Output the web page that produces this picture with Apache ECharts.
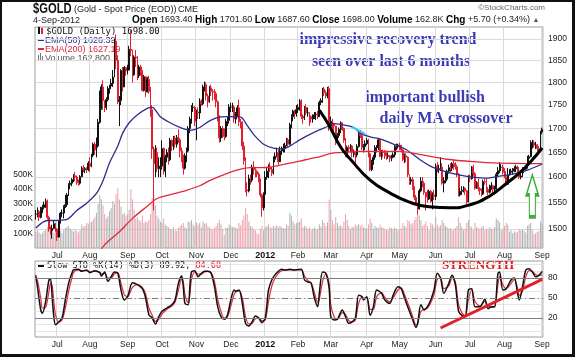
<!DOCTYPE html>
<html><head><meta charset="utf-8">
<script src="https://cdn.jsdelivr.net/npm/echarts@6/dist/echarts.min.js"></script>
<style>
html,body{margin:0;padding:0;background:#fff;}
#wrap{position:relative;width:575px;height:357px;}
#c{position:absolute;left:0;top:0;width:575px;height:357px;}
#frame{position:absolute;left:0;top:0;width:575px;height:357px;box-sizing:border-box;border-left:2px solid #111;border-top:2px solid #111;border-right:3px solid #111;border-bottom:3px solid #111;pointer-events:none;}
</style></head><body>
<div id="wrap"><div id="c"></div><div id="frame"></div></div>
<script>
// ---------- DATA ----------
const monthLabels = ['Jun','Jul','Aug','Sep','Oct','Nov','Dec','2012','Feb','Mar','Apr','May','Jun','Jul','Aug','Sep'];
// daily [close, high, low]
const jun2011 = [[1528,1536,1518],[1533,1541,1522],[1522,1536,1515],[1538,1542,1520],[1541,1546,1530],[1546,1552,1537],[1553,1558,1540],[1522,1556,1518],[1500,1525,1495],[1497,1505,1490],[1501,1508,1482],[1510,1515,1500],[1500,1512,1495]];
const jul2011 = [[1485,1502,1478],[1515,1517,1484],[1530,1532,1510],[1530,1537,1522],[1542,1545,1520],[1546,1565,1540],[1565,1569,1542],[1585,1588,1563],[1588,1593,1576],[1595,1598,1582],[1603,1606,1590],[1600,1610,1592],[1589,1603,1585],[1588,1595,1583],[1601,1604,1585],[1618,1622,1600],[1615,1624,1610],[1617,1620,1608],[1615,1620,1608],[1628,1632,1612]];
const aug2011 = [[1622,1640,1610],[1644,1647,1620],[1667,1670,1640],[1655,1672,1645],[1663,1681,1640],[1713,1720,1660],[1743,1782,1710],[1790,1796,1740],[1760,1805,1740],[1745,1760,1735],[1762,1767,1740],[1787,1792,1758],[1792,1795,1775],[1798,1808,1785],[1812,1828,1790],[1895,1900,1812],[1850,1911,1830],[1758,1862,1752],[1760,1770,1705],[1827,1830,1750],[1790,1835,1780],[1834,1837,1790],[1826,1835,1815]];
const sep2011 = [[1828,1840,1818],[1876,1884,1827],[1873,1921,1860],[1817,1875,1800],[1858,1862,1815],[1856,1874,1835],[1815,1860,1805],[1835,1840,1810],[1825,1840,1815],[1782,1828,1780],[1813,1817,1780],[1779,1813,1768],[1807,1812,1778],[1780,1815,1775],[1740,1790,1725],[1657,1750,1637],[1627,1662,1535],[1650,1665,1600],[1617,1660,1610],[1620,1640,1600],[1622,1640,1600]];
const oct2011 = [[1658,1675,1615],[1612,1660,1605],[1640,1645,1600],[1650,1657,1630],[1635,1660,1625],[1675,1680,1632],[1663,1677,1653],[1680,1684,1655],[1667,1685,1660],[1681,1686,1660],[1676,1698,1670],[1653,1680,1640],[1638,1660,1630],[1618,1645,1605],[1643,1648,1615],[1653,1660,1630],[1700,1705,1650],[1720,1725,1690],[1745,1750,1710],[1745,1755,1735],[1715,1748,1705]];
const nov2011 = [[1735,1740,1675],[1733,1745,1720],[1759,1765,1720],[1753,1763,1748],[1790,1795,1750],[1795,1802,1780],[1770,1800,1760],[1757,1775,1745],[1788,1792,1755],[1780,1795,1770],[1778,1785,1760],[1775,1785,1762],[1757,1780,1745],[1725,1760,1715],[1680,1728,1670],[1700,1705,1672],[1690,1705,1680],[1683,1700,1675],[1715,1720,1680],[1717,1725,1705],[1746,1752,1710]];
const dec2011 = [[1746,1755,1735],[1746,1755,1735],[1720,1750,1712],[1731,1735,1710],[1744,1750,1725],[1714,1762,1705],[1712,1720,1700],[1663,1715,1655],[1633,1672,1625],[1575,1640,1570],[1573,1590,1562],[1597,1605,1570],[1594,1605,1585],[1620,1625,1590],[1615,1632,1605],[1611,1618,1600],[1606,1615,1600],[1596,1610,1590],[1565,1597,1560],[1540,1568,1523],[1566,1570,1535]];
const jan2012 = [[1600,1612,1565],[1612,1620,1595],[1620,1626,1598],[1616,1630,1610],[1608,1620,1602],[1636,1642,1605],[1642,1650,1630],[1650,1660,1640],[1631,1656,1625],[1653,1662,1635],[1658,1662,1645],[1659,1668,1650],[1664,1670,1650],[1676,1680,1662],[1667,1680,1662],[1708,1712,1665],[1725,1730,1700],[1737,1740,1715],[1731,1740,1720],[1740,1750,1725]];
const feb2012 = [[1745,1752,1733],[1759,1763,1738],[1726,1762,1720],[1722,1730,1710],[1745,1748,1718],[1733,1752,1728],[1733,1745,1725],[1725,1735,1705],[1720,1728,1712],[1724,1730,1712],[1729,1735,1720],[1730,1735,1718],[1725,1737,1720],[1756,1760,1725],[1760,1765,1750],[1785,1788,1755],[1777,1790,1770],[1770,1782,1765],[1786,1790,1765],[1705,1792,1695]];
const mar2012 = [[1715,1725,1695],[1710,1720,1700],[1705,1712,1695],[1670,1705,1665],[1685,1690,1670],[1698,1702,1680],[1712,1715,1690],[1700,1712,1695],[1675,1702,1670],[1645,1680,1640],[1660,1664,1640],[1658,1665,1650],[1663,1667,1650],[1650,1665,1640],[1650,1656,1640],[1645,1652,1627],[1662,1667,1640],[1690,1692,1660],[1685,1697,1680],[1660,1688,1655],[1662,1667,1650],[1668,1675,1655]];
const apr2012 = [[1675,1680,1665],[1647,1678,1640],[1615,1650,1612],[1630,1635,1612],[1640,1645,1625],[1660,1665,1635],[1660,1665,1650],[1676,1678,1655],[1642,1678,1640],[1651,1655,1635],[1650,1656,1640],[1643,1655,1637],[1642,1650,1635],[1643,1650,1637],[1638,1645,1630],[1640,1645,1632],[1645,1650,1638],[1660,1665,1640],[1662,1668,1655],[1665,1668,1658]];
const may2012 = [[1663,1670,1655],[1655,1665,1650],[1635,1657,1632],[1643,1648,1628],[1640,1648,1630],[1605,1642,1600],[1592,1605,1585],[1595,1600,1585],[1580,1600,1575],[1560,1582,1555],[1548,1565,1545],[1538,1550,1527],[1573,1577,1537],[1592,1600,1570],[1588,1600,1580],[1570,1592,1565],[1561,1570,1535],[1557,1575,1550],[1572,1575,1555],[1553,1575,1550],[1565,1570,1537],[1562,1575,1555]];
const jun2012 = [[1622,1627,1555],[1617,1630,1610],[1617,1625,1608],[1620,1640,1612],[1588,1628,1585],[1593,1600,1570],[1596,1612,1588],[1612,1615,1592],[1619,1625,1607],[1618,1628,1610],[1627,1630,1612],[1626,1635,1615],[1621,1630,1615],[1605,1625,1600],[1565,1608,1562],[1572,1578,1562],[1574,1582,1565],[1578,1582,1570],[1573,1580,1565],[1551,1575,1547],[1598,1604,1552]];
const jul2012 = [[1597,1605,1590],[1620,1622,1595],[1607,1625,1603],[1578,1610,1575],[1589,1592,1577],[1577,1597,1572],[1574,1580,1565],[1567,1578,1562],[1591,1595,1565],[1590,1596,1585],[1576,1597,1570],[1570,1580,1565],[1581,1585,1568],[1583,1590,1575],[1576,1585,1565],[1580,1583,1570],[1606,1610,1575],[1613,1620,1600],[1620,1630,1608],[1620,1626,1612],[1610,1625,1605]];
const aug2012 = [[1601,1618,1598],[1586,1612,1583],[1605,1618,1585],[1610,1616,1603],[1612,1617,1605],[1613,1618,1605],[1617,1622,1610],[1620,1625,1610],[1612,1623,1608],[1600,1615,1596],[1602,1608,1596],[1615,1620,1600],[1616,1620,1608],[1619,1624,1612],[1638,1643,1617],[1641,1645,1630],[1670,1675,1640],[1670,1676,1658],[1665,1675,1660],[1665,1672,1657],[1658,1667,1652],[1657,1663,1650],[1692.3,1695,1652]];
const sep2012 = [[1698,1701.6,1687.6]];

// daily volume, thousands
const volJun2011 = [110,120,105,95,100,115,120,140,135,110,125,105,130];
const volJul2011 = [130,125,115,100,120,135,140,150,130,120,110,125,115,105,120,160,140,150,170,165];
const volAug2011 = [180,175,195,210,240,300,360,330,290,230,200,215,250,270,320,300,365,405,330,280,230,240,220];
const volSep2011 = [230,260,400,330,260,200,210,190,180,220,170,180,175,190,230,340,365,290,220,200,180];
const volOct2011 = [170,200,160,150,140,130,125,140,120,115,135,150,160,170,140,130,180,175,190,160,150];
const volNov2011 = [175,160,170,140,180,165,170,150,140,130,125,135,150,170,190,160,130,90,140,135,160];
const volDec2011 = [150,140,145,135,130,170,155,190,220,270,230,180,150,140,125,120,100,95,130,150,120];
const volJan2012 = [140,150,160,140,135,150,140,155,145,150,140,135,130,160,150,240,220,180,160,170];
const volFeb2012 = [175,180,200,140,150,145,130,140,120,130,140,125,130,160,145,190,170,150,175,330];
const volMar2012 = [260,190,160,210,170,150,155,140,180,230,190,150,130,145,140,160,150,165,150,160,140,135];
const volApr2012 = [130,160,200,170,130,150,140,135,160,140,135,130,125,120,140,135,125,140,130,120];
const volMay2012 = [130,135,170,150,140,190,180,160,170,190,210,230,220,190,150,160,180,150,120,170,160,140];
const volJun2012 = [210,160,145,155,190,170,150,140,130,135,120,125,135,150,210,170,140,120,130,170,190];
const volJul2012 = [150,140,120,170,140,135,130,140,150,120,130,125,140,130,125,145,200,190,175,120,130];
const volAug2012 = [150,170,160,110,120,100,115,105,110,130,120,125,115,105,150,160,170,120,95,100,110,115,180];
const volSep2012 = [163];

// EMA lines: [trading-day index, value]
const ema50 = [[0,1502],[7,1516],[11,1516],[19,1518],[25,1535],[31,1549],[37,1568],[41,1593],[45,1629],[50,1663],[53,1690],[57,1712],[62,1729],[68,1743],[71,1745],[76,1725],[82,1712],[88,1702],[94,1696],[100,1702],[106,1716],[112,1724],[118,1725],[125,1724],[129,1706],[133,1687],[139,1667],[145,1659],[151,1657],[155,1663],[161,1676],[167,1687],[173,1697],[178,1704],[181,1710],[187,1708],[194,1702],[198,1690],[204,1682],[210,1678],[216,1670],[226,1656],[234,1636],[242,1620],[251,1610],[259,1604],[267,1600],[275,1598],[283,1602],[291,1606],[300,1614],[309,1626.39]];
const ema200 = [[38,1455],[43,1474],[51,1495],[59,1520],[68,1543],[74,1558],[84,1567],[92,1574],[100,1583],[106,1593],[118,1609],[125,1616],[131,1619],[137,1619],[143,1620],[149,1624],[155,1628],[161,1632],[167,1637],[173,1641],[180,1648],[187,1650],[196,1652],[204,1652],[216,1652],[222,1652],[234,1646],[251,1636],[267,1631],[283,1628],[300,1627],[309,1627.19]];
const cyanSeg = [[193,1703],[201,1688]];
const cupArc = [[173,1739],[179,1706],[186,1661],[192,1636],[204,1594],[216,1569],[228,1551],[240,1542],[253,1540],[265,1546],[277,1563],[287,1587],[295,1608],[303,1635],[309,1659]];
const arrowAt = [[303,1563]];

// Slow stochastic
const stoK = [[0,84],[1,67],[3,32],[4,27],[6,45],[8,77],[9,78],[10,50],[11,22],[12,10],[14,14],[16,20],[18,47],[20,72],[22,87],[23,92],[26,93],[28,90],[31,92],[33,88],[36,91],[39,88],[40,83],[42,89],[44,75],[46,82],[48,89],[50,87],[52,62],[54,47],[56,52],[59,73],[62,70],[65,64],[67,50],[69,25],[71,20],[73,11],[75,22],[77,30],[80,35],[83,40],[85,47],[87,72],[89,83],[90,67],[91,42],[93,40],[94,67],[95,89],[97,91],[99,82],[101,87],[103,90],[105,90],[107,87],[109,67],[111,37],[113,22],[115,18],[117,25],[119,47],[121,62],[122,60],[124,62],[126,42],[128,12],[130,8],[132,14],[134,23],[136,20],[138,13],[140,20],[142,62],[144,77],[146,85],[148,90],[150,93],[152,92],[155,93],[158,92],[162,93],[164,77],[166,74],[168,72],[170,50],[172,37],[173,57],[175,89],[177,87],[179,64],[180,22],[182,17],[184,18],[187,32],[189,22],[191,12],[193,14],[195,20],[197,54],[199,52],[200,47],[202,52],[204,24],[206,37],[208,62],[211,57],[213,47],[216,42],[218,54],[221,67],[223,64],[225,50],[228,30],[230,17],[232,6],[233,12],[235,40],[237,32],[239,37],[241,47],[243,62],[245,87],[247,80],[249,57],[252,72],[254,84],[256,70],[258,30],[260,24],[262,22],[264,62],[266,64],[268,37],[271,37],[274,48],[276,34],[278,37],[280,37],[282,87],[283,89],[285,62],[287,64],[290,77],[292,80],[294,57],[295,47],[297,67],[299,92],[301,94],[303,89],[305,82],[307,84],[309,89.92]];
const stoD = [[0,80],[1,76],[3,50],[4,35],[6,36],[8,60],[9,72],[10,68],[11,45],[12,25],[14,14],[16,17],[18,35],[20,60],[22,80],[23,88],[26,92],[28,91],[31,91],[33,89],[36,90],[39,89],[40,86],[42,87],[44,80],[46,80],[48,86],[50,88],[52,72],[54,55],[56,52],[59,66],[62,70],[65,66],[67,56],[69,35],[71,24],[73,15],[75,18],[77,26],[80,33],[83,38],[85,44],[87,62],[89,78],[90,74],[91,55],[93,43],[94,55],[95,78],[97,89],[99,86],[101,86],[103,89],[105,90],[107,88],[109,75],[111,48],[113,30],[115,20],[117,22],[119,38],[121,55],[122,59],[124,61],[126,50],[128,22],[130,11],[132,12],[134,19],[136,20],[138,16],[140,17],[142,45],[144,68],[146,80],[148,87],[150,91],[152,92],[155,92],[158,92],[162,92],[164,83],[166,76],[168,73],[170,58],[172,44],[173,48],[175,75],[177,86],[179,72],[180,40],[182,22],[184,18],[187,28],[189,25],[191,16],[193,14],[195,17],[197,42],[199,51],[200,50],[202,50],[204,33],[206,33],[208,52],[211,58],[213,51],[216,44],[218,50],[221,62],[223,65],[225,55],[228,36],[230,22],[232,10],[233,11],[235,30],[237,33],[239,35],[241,43],[243,55],[245,78],[247,80],[249,64],[252,68],[254,80],[256,74],[258,40],[260,28],[262,23],[264,48],[266,62],[268,45],[271,38],[274,45],[276,38],[278,36],[280,37],[282,70],[283,82],[285,70],[287,64],[290,72],[292,78],[294,64],[295,54],[297,60],[299,82],[301,91],[303,90],[305,85],[307,84],[309,84.68]];
const strengthLine = [[247,5],[309,78]];

const priceTicks = [1500,1550,1600,1650,1700,1750,1800,1850,1900];
const volTicks = [100,200,300,400,500];
const stoGrid = [0,10,20,30,40,50,60,70,80,90,100];
const stoLabels = [20,50,80];

// ---------- BUILD ----------
const L = Math.log;
const months = [jun2011,jul2011,aug2011,sep2011,oct2011,nov2011,dec2011,jan2012,feb2012,mar2012,apr2012,may2012,jun2012,jul2012,aug2012,sep2012];
const vols = [volJun2011,volJul2011,volAug2011,volSep2011,volOct2011,volNov2011,volDec2011,volJan2012,volFeb2012,volMar2012,volApr2012,volMay2012,volJun2012,volJul2012,volAug2012,volSep2012];
const cats=[], closes=[], highs=[], lows=[], volume=[], catMonth=[], isStart=[];
months.forEach((m, mi) => m.forEach((d, di) => {
  cats.push(mi + '-' + di); catMonth.push(mi); isStart.push(di === 0 && mi > 0);
  closes.push(d[0]); highs.push(d[1]); lows.push(d[2]); volume.push(vols[mi][di]);
}));
const candles = closes.map((c, i) => { const o = i ? closes[i-1] : c; return [L(o), L(c), L(lows[i]), L(highs[i])]; });
const volData = volume.map((v, i) => ({ value: v, itemStyle: { color: (i && closes[i] < closes[i-1]) ? '#efa3ad' : '#b3b3b3' } }));
const logPts = a => a.map(p => [p[0], L(p[1])]);
const startFn = (idx) => isStart[idx];
const AX = 'Liberation Sans';

function xAxisDef(grid) {
  return {
    type: 'category', gridIndex: grid, data: cats, boundaryGap: true,
    axisLine: { show: false }, axisTick: { show: false, interval: startFn },
    axisLabel: { interval: startFn, margin: 3, color: '#222', fontSize: 8.5, fontFamily: AX, hideOverlap: false,
      showMinLabel: true, showMaxLabel: true,
      formatter: (v, i) => { const m = catMonth[i]; return m === 7 ? '{y|2012}' : monthLabels[m]; },
      rich: { y: { fontWeight: 'bold', fontSize: 9, fontFamily: AX, color: '#111' } } },
    splitLine: { show: true, interval: startFn, lineStyle: { color: '#dadada', width: 1 } }
  };
}

const chart = echarts.init(document.getElementById('c'), null, { renderer: 'canvas' });
chart.setOption({
  animation: false,
  backgroundColor: '#fff',
  grid: [
    { left: 35, top: 27, width: 508, height: 221, show: true, borderColor: '#9c9c9c', borderWidth: 1, containLabel: false, outerBoundsMode: 'none' },
    { left: 35, top: 261, width: 508, height: 76, show: true, borderColor: '#9c9c9c', borderWidth: 1, containLabel: false, outerBoundsMode: 'none' }
  ],
  xAxis: [xAxisDef(0), xAxisDef(1)],
  yAxis: [
    { type: 'value', gridIndex: 0, position: 'right', min: L(1465), max: L(1928.6),
      axisLine: { show: false }, axisTick: { show: false, customValues: priceTicks.map(L) },
      axisLabel: { customValues: priceTicks.map(L), formatter: v => String(Math.round(Math.exp(v))), margin: 5, color: '#222', fontSize: 8.5, fontFamily: AX },
      splitLine: { show: true, lineStyle: { color: '#dadada', width: 1 } } },
    { type: 'value', gridIndex: 0, position: 'left', min: 0, max: 1500,
      axisLine: { show: false }, axisTick: { show: false, customValues: volTicks },
      axisLabel: { customValues: volTicks, formatter: v => v + 'K', margin: 2, color: '#222', fontSize: 8.5, fontFamily: AX },
      splitLine: { show: false } },
    { type: 'value', gridIndex: 1, position: 'right', min: -8.5, max: 105.5,
      axisLine: { show: false }, axisTick: { show: false, customValues: stoGrid },
      axisLabel: { customValues: stoLabels, margin: 5, color: '#222', fontSize: 8.5, fontFamily: AX },
      splitLine: { show: true, lineStyle: { color: '#e6e6e6', width: 1 } } }
  ],
  series: [
    { type: 'bar', xAxisIndex: 0, yAxisIndex: 1, data: volData, barWidth: '62%', z: 1, silent: true },
    { type: 'candlestick', xAxisIndex: 0, yAxisIndex: 0, data: candles, barWidth: '80%', z: 2, silent: true,
      itemStyle: { color: '#111', color0: '#e0202c', borderColor: '#111', borderColor0: '#e0202c', borderWidth: 1 } },
    { type: 'line', xAxisIndex: 0, yAxisIndex: 0, data: logPts(ema50), showSymbol: false, smooth: 0.3, z: 3, silent: true,
      lineStyle: { color: '#2e2e8c', width: 1.3 } },
    { type: 'line', xAxisIndex: 0, yAxisIndex: 0, data: logPts(ema200), showSymbol: false, smooth: 0.3, z: 3, silent: true,
      lineStyle: { color: '#e3283a', width: 1.3 } },
    { type: 'line', xAxisIndex: 0, yAxisIndex: 0, data: logPts(cyanSeg), showSymbol: false, z: 4, silent: true,
      lineStyle: { color: '#39c6f0', width: 2 } },
    { type: 'line', xAxisIndex: 0, yAxisIndex: 0, data: logPts(cupArc), showSymbol: false, smooth: 0.5, z: 5, silent: true,
      lineStyle: { color: '#000', width: 3 } },
    { type: 'scatter', xAxisIndex: 0, yAxisIndex: 0, data: logPts(arrowAt), z: 6, silent: true,
      symbol: 'path://M6,0 L12,20 L9,20 L9,42 L3,42 L3,20 L0,20 Z', symbolSize: [12, 42],
      itemStyle: { color: '#ffffff', borderColor: '#3fae3f', borderWidth: 2, opacity: 1 } },
    { type: 'line', xAxisIndex: 1, yAxisIndex: 2, data: stoD, showSymbol: false, smooth: 0.3, z: 3, silent: true,
      lineStyle: { color: '#e3283a', width: 1.2 } },
    { type: 'line', xAxisIndex: 1, yAxisIndex: 2, data: stoK, showSymbol: false, smooth: 0.3, z: 4, silent: true,
      lineStyle: { color: '#111', width: 1.5 },
      markLine: { silent: true, symbol: 'none', label: { show: false }, animation: false,
        data: [ { yAxis: 80, lineStyle: { color: '#7c7c7c', width: 1, type: 'solid' } },
                { yAxis: 20, lineStyle: { color: '#7c7c7c', width: 1, type: 'solid' } },
                { yAxis: 50, lineStyle: { color: '#7c7c7c', width: 1, type: [6, 3, 1, 3] } } ] } },
    { type: 'line', xAxisIndex: 1, yAxisIndex: 2, data: strengthLine, showSymbol: false, z: 5, silent: true, clip: false,
      lineStyle: { color: '#e3202a', width: 3 } }
  ],
  graphic: [
    { type: 'text', x: 33, y: 2, scaleX: 0.8, style: { text: '$GOLD', font: 'bold 14px "Liberation Sans"', fill: '#111' } },
    { type: 'text', x: 74, y: 5, style: { text: '(Gold - Spot Price (EOD))', font: '9px "Liberation Sans"', fill: '#222' } },
    { type: 'text', x: 178, y: 5, style: { text: 'CME', font: '9px "Liberation Sans"', fill: '#222' } },
    { type: 'text', x: 33, y: 16, style: { text: '4-Sep-2012', font: '9px "Liberation Sans"', fill: '#222' } },
    { type: 'text', x: 132, y: 15, style: {
        text: '{b|Open} 1693.40 {b|High} 1701.60 {b|Low} 1687.60 {b|Close} 1698.00 {b|Volume} 162.8K {b|Chg} +5.70 (+0.34%) {t|▲}',
        font: '9px "Liberation Sans"', fill: '#222',
        rich: { b: { fontWeight: 'bold', fontSize: 10, fontFamily: 'Liberation Sans', fill: '#000' }, t: { fontSize: 7, fill: '#555' } } } },
    { type: 'text', x: 545, y: 4, style: { text: '©StockCharts.com', font: '8px "Liberation Sans"', fill: '#666', textAlign: 'right', align: 'right' } },
    // legend inside price panel
    { type: 'rect', shape: { x: 38, y: 27, width: 2, height: 7 }, style: { fill: '#111' } },
    { type: 'rect', shape: { x: 41, y: 28, width: 2, height: 6 }, style: { fill: '#e0202c' } },
    { type: 'text', x: 46, y: 27, style: { text: '$GOLD (Daily) 1698.00', font: '9px "DejaVu Sans Mono"', fill: '#111' } },
    { type: 'rect', shape: { x: 38, y: 39, width: 6, height: 2 }, style: { fill: '#2e2e8c' } },
    { type: 'text', x: 45, y: 36, style: { text: 'EMA(50) 1626.39', font: '9px "Liberation Sans"', fill: '#2e2e8c' } },
    { type: 'rect', shape: { x: 38, y: 48, width: 6, height: 2 }, style: { fill: '#e3283a' } },
    { type: 'text', x: 45, y: 45, style: { text: 'EMA(200) 1627.19', font: '9px "Liberation Sans"', fill: '#e3283a' } },
    { type: 'rect', shape: { x: 38, y: 55, width: 1, height: 5 }, style: { fill: '#777' } },
    { type: 'rect', shape: { x: 40, y: 53, width: 1, height: 7 }, style: { fill: '#777' } },
    { type: 'rect', shape: { x: 42, y: 56, width: 1, height: 4 }, style: { fill: '#777' } },
    { type: 'text', x: 45, y: 54, style: { text: 'Volume 162,800', font: '9px "Liberation Sans"', fill: '#555' } },
    // annotations
    { type: 'text', x: 388, y: 40, style: { text: 'impressive recovery trend', font: 'bold 16px "Liberation Serif"', fill: '#3b3bb5', textAlign: 'center', align: 'center', textVerticalAlign: 'middle', verticalAlign: 'middle' } },
    { type: 'text', x: 391, y: 62, style: { text: 'seen over last 6 months', font: 'bold 16px "Liberation Serif"', fill: '#3b3bb5', textAlign: 'center', align: 'center', textVerticalAlign: 'middle', verticalAlign: 'middle' } },
    { type: 'text', x: 425, y: 98, style: { text: 'important bullish', font: 'bold 16px "Liberation Serif"', fill: '#3b3bb5', textAlign: 'center', align: 'center', textVerticalAlign: 'middle', verticalAlign: 'middle' } },
    { type: 'text', x: 446, y: 119, style: { text: 'daily MA crossover', font: 'bold 16px "Liberation Serif"', fill: '#3b3bb5', textAlign: 'center', align: 'center', textVerticalAlign: 'middle', verticalAlign: 'middle' } },
    { type: 'text', x: 478, y: 266, style: { text: 'STRENGTH', font: 'bold 13px "Liberation Serif"', fill: '#e02020', textAlign: 'center', align: 'center', textVerticalAlign: 'middle', verticalAlign: 'middle' } },
    // stochastic legend
    { type: 'rect', shape: { x: 38, y: 265, width: 6, height: 2 }, style: { fill: '#111' } },
    { type: 'text', x: 47, y: 261, style: { text: 'Slow STO %K(14) %D(3) 89.92, {r|84.68}', font: '8.5px "DejaVu Sans Mono"', fill: '#111', rich: { r: { fill: '#e3202a', fontFamily: 'DejaVu Sans Mono', fontSize: 8.5 } } } }
  ]
});
</script>
</body></html>
